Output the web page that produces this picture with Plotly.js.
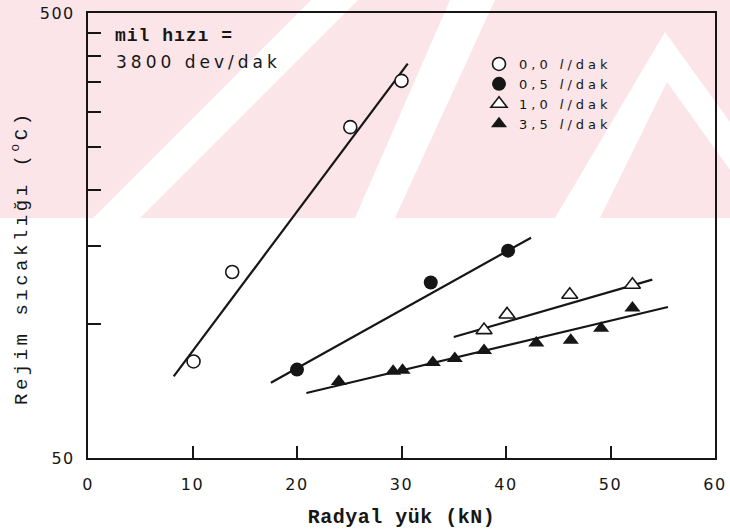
<!DOCTYPE html>
<html>
<head>
<meta charset="utf-8">
<script src="https://cdn.plot.ly/plotly-3.0.1.min.js"></script>
<style>
  html, body { margin: 0; padding: 0; background: #ffffff; }
  #chart { width: 730px; height: 529px; }
  .xtick text, .ytick text { letter-spacing: 1.5px; }
  .legendtext { letter-spacing: 4px; }
  g.annotation[data-index="0"] text { letter-spacing: 1px; }
  g.annotation[data-index="1"] text { letter-spacing: 4px; }
  g.annotation[data-index="2"] text { letter-spacing: 3.5px; }
  .g-xtitle text { letter-spacing: 0.5px; }
</style>
</head>
<body>
<div id="chart"></div>
<script>
// ---------------- data ----------------
const seriesNames = ['0,0 <i>l</i>/dak', '0,5 <i>l</i>/dak', '1,0 <i>l</i>/dak', '3,5 <i>l</i>/dak'];

const xOpenCircle   = [10.1, 13.8, 25.1, 30.0];
const yOpenCircle   = [82.4, 130.9, 277, 352];

const xFilledCircle = [20.0, 32.8, 40.2];
const yFilledCircle = [79.0, 124.0, 146.2];

const xOpenTriangle = [37.9, 40.1, 46.1, 52.1];
const yOpenTriangle = [96.9, 105.1, 116.4, 122.5];

const xFilledTriangle = [24.0, 29.2, 30.1, 33.0, 35.1, 37.9, 42.9, 46.2, 49.1, 52.1];
const yFilledTriangle = [74.3, 78.3, 78.7, 82.0, 83.7, 87.2, 90.6, 91.9, 97.9, 108.6];

// fitted straight lines (end points)
const xFitOpenCircle     = [8.2, 30.6];
const yFitOpenCircle     = [76.3, 384.6];
const xFitFilledCircle   = [17.5, 42.4];
const yFitFilledCircle   = [73.8, 156.3];
const xFitOpenTriangle   = [35.0, 54.0];
const yFitOpenTriangle   = [93.5, 125.8];
const xFitFilledTriangle = [20.9, 55.5];
const yFitFilledTriangle = [70.0, 109.2];

const xTickVals = [0, 10, 20, 30, 40, 50, 60];
const xTickText = ['0', '10', '20', '30', '40', '50', '60'];
const yTickVals = [50, 500];
const yTickText = ['50', '500'];
const yMinorTickVals = [100, 150, 200, 250, 300, 350, 400, 450];

const xTitle = 'Radyal yük (kN)';
const yTitle = 'Rejim sıcaklığı (<sup>o</sup>C)';
const noteLine1 = 'mil hızı =';
const noteLine2 = '3800 dev/dak';

// ---------------- styling ----------------
const INK = '#161616';
const W = 730, H = 529;
const M = { l: 88, r: 15, t: 13, b: 71 };
const PW = W - M.l - M.r, PH = H - M.t - M.b;
const px2x = p => (p - M.l) / PW;
const py2y = p => (H - M.b - p) / PH;

function poly(pts) {
  return 'M ' + pts.map(p => px2x(p[0]).toFixed(4) + ',' + py2y(p[1]).toFixed(4)).join(' L ') + ' Z';
}
// faint pink watermark of the scanned page (decoration only)
const PINK = '#fbe5e8';
const wmShapes = [
  { pts: [[0, 0], [730, 0], [730, 218], [0, 218]], c: PINK },
  { pts: [[93, 218], [140, 218], [358, 0], [311, 0]], c: '#ffffff' },
  { pts: [[355, 218], [395, 218], [495, 0], [450, 0]], c: '#ffffff' },
  { pts: [[555, 218], [665, 32], [730, 122], [730, 170], [667, 82], [600, 218]], c: '#ffffff' }
].map(s => ({
  type: 'path', xref: 'paper', yref: 'paper', layer: 'below',
  path: poly(s.pts), fillcolor: s.c, line: { width: 0 }
}));

function markerTrace(x, y, name, symbol, filled, size) {
  return {
    x: x, y: y, name: name, type: 'scatter', mode: 'markers',
    marker: {
      symbol: symbol, size: size,
      color: filled ? INK : '#ffffff',
      line: { color: INK, width: filled ? 0 : 1.6 }
    },
    cliponaxis: false
  };
}
function fitTrace(x, y) {
  return {
    x: x, y: y, type: 'scatter', mode: 'lines', showlegend: false,
    hoverinfo: 'skip', line: { color: INK, width: 2.2 }
  };
}

const data = [
  fitTrace(xFitOpenCircle, yFitOpenCircle),
  fitTrace(xFitFilledCircle, yFitFilledCircle),
  fitTrace(xFitOpenTriangle, yFitOpenTriangle),
  fitTrace(xFitFilledTriangle, yFitFilledTriangle),
  markerTrace(xOpenCircle, yOpenCircle, seriesNames[0], 'circle', false, 13),
  markerTrace(xFilledCircle, yFilledCircle, seriesNames[1], 'circle', true, 14),
  markerTrace(xOpenTriangle, yOpenTriangle, seriesNames[2], 'triangle-up', false, 14),
  markerTrace(xFilledTriangle, yFilledTriangle, seriesNames[3], 'triangle-up', true, 14)
];

const tickFont = { family: 'DejaVu Sans, sans-serif', size: 16, color: INK };

const layout = {
  width: W, height: H,
  margin: M,
  paper_bgcolor: '#ffffff',
  plot_bgcolor: 'rgba(0,0,0,0)',
  showlegend: true,
  legend: {
    x: px2x(479), y: py2y(49), xanchor: 'left', yanchor: 'top',
    bgcolor: 'rgba(0,0,0,0)', borderwidth: 0,
    font: { family: 'DejaVu Sans, sans-serif', size: 13, color: INK },
    itemwidth: 30
  },
  xaxis: {
    range: [0, 60], tickmode: 'array', tickvals: xTickVals, ticktext: xTickText,
    ticks: 'inside', ticklen: 12, tickwidth: 2, tickcolor: INK,
    showline: true, linewidth: 2, linecolor: INK, mirror: true,
    showgrid: false, zeroline: false, tickfont: tickFont,
    ticklabelstandoff: 11,
    title: { text: xTitle, font: { family: 'Liberation Mono, monospace', size: 20, color: INK, weight: 'bold' }, standoff: 22 },
    automargin: false
  },
  yaxis: {
    type: 'log', range: [Math.log10(50), Math.log10(500)],
    tickmode: 'array', tickvals: yTickVals, ticktext: yTickText,
    ticks: 'inside', ticklen: 13, tickwidth: 2, tickcolor: INK,
    minor: { tickmode: 'array', tickvals: yMinorTickVals, ticks: 'inside', ticklen: 13,
             tickwidth: 2, tickcolor: INK, showgrid: false },
    showline: true, linewidth: 2, linecolor: INK, mirror: true,
    showgrid: false, zeroline: false, tickfont: tickFont,
    ticklabelstandoff: 8,
    automargin: false
  },
  shapes: wmShapes,
  annotations: [
    { text: noteLine1, xref: 'paper', yref: 'paper', x: px2x(174), y: py2y(36),
      xanchor: 'center', yanchor: 'middle', showarrow: false,
      font: { family: 'Liberation Mono, monospace', size: 18, color: INK, weight: 'bold' } },
    { text: noteLine2, xref: 'paper', yref: 'paper', x: px2x(198), y: py2y(62),
      xanchor: 'center', yanchor: 'middle', showarrow: false,
      font: { family: 'DejaVu Sans, sans-serif', size: 17, color: INK } },
    { text: yTitle, xref: 'paper', yref: 'paper', x: px2x(20), y: py2y(258),
      xanchor: 'center', yanchor: 'middle', showarrow: false, textangle: -90,
      font: { family: 'Liberation Mono, monospace', size: 19, color: INK } }
  ]
};

Plotly.newPlot('chart', data, layout, { displayModeBar: false, staticPlot: true });
</script>
</body>
</html>
